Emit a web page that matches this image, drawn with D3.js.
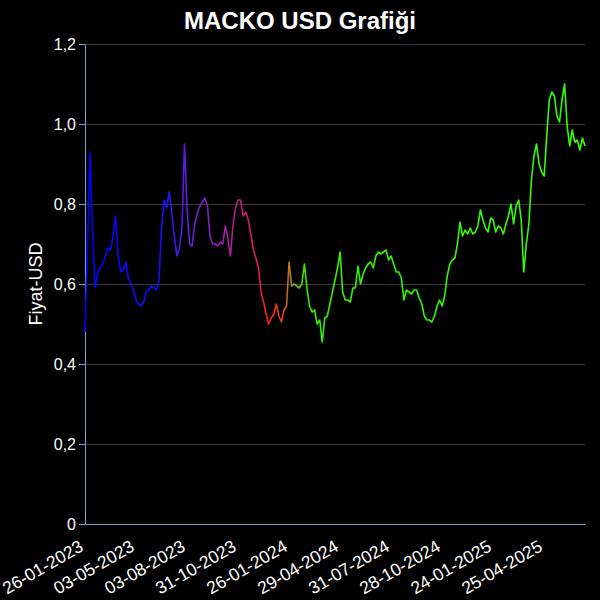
<!DOCTYPE html>
<html>
<head>
<meta charset="utf-8">
<script src="https://cdn.jsdelivr.net/npm/d3@7"></script>
<style>
  html, body { margin: 0; padding: 0; background: #000; }
  svg { display: block; background: #000; }
</style>
</head>
<body>
<svg id="chart" width="600" height="600"></svg>
<script>
const title = "MACKO USD Grafiği";
const yLabel = "Fiyat-USD";
const tickLabels = ["26-01-2023","03-05-2023","03-08-2023","31-10-2023","26-01-2024","29-04-2024","31-07-2024","28-10-2024","24-01-2025","25-04-2025"];
const tickStep = 20; // data points between labelled dates
const yTicks = [0, 0.2, 0.4, 0.6, 0.8, 1.0, 1.2];
const prices = [
  0.48, 0.70, 0.93, 0.72, 0.59, 0.63, 0.64, 0.65, 0.67, 0.69,
  0.685, 0.72, 0.77, 0.67, 0.63, 0.635, 0.655, 0.615, 0.60, 0.585,
  0.56, 0.55, 0.545, 0.555, 0.58, 0.585, 0.595, 0.59, 0.585, 0.61,
  0.74, 0.81, 0.79, 0.83, 0.78, 0.72, 0.67, 0.69, 0.74, 0.95,
  0.79, 0.70, 0.695, 0.75, 0.775, 0.795, 0.805, 0.815, 0.795, 0.72,
  0.70, 0.70, 0.695, 0.705, 0.70, 0.745, 0.715, 0.67, 0.745, 0.79,
  0.81, 0.81, 0.77, 0.78, 0.76, 0.725, 0.685, 0.665, 0.64, 0.58,
  0.555, 0.525, 0.50, 0.515, 0.525, 0.55, 0.52, 0.505, 0.535, 0.545,
  0.655, 0.595, 0.60, 0.595, 0.59, 0.60, 0.65, 0.59, 0.545, 0.53,
  0.535, 0.50, 0.51, 0.455, 0.515, 0.52, 0.55, 0.58, 0.61, 0.64,
  0.68, 0.58, 0.56, 0.56, 0.555, 0.59, 0.59, 0.645, 0.60, 0.625,
  0.64, 0.65, 0.655, 0.64, 0.67, 0.68, 0.675, 0.68, 0.685, 0.66,
  0.67, 0.65, 0.63, 0.63, 0.615, 0.56, 0.585, 0.58, 0.575, 0.585,
  0.585, 0.565, 0.55, 0.52, 0.51, 0.51, 0.505, 0.52, 0.545, 0.56,
  0.545, 0.57, 0.62, 0.65, 0.66, 0.665, 0.70, 0.755, 0.72, 0.735,
  0.725, 0.74, 0.725, 0.73, 0.745, 0.785, 0.76, 0.74, 0.73, 0.765,
  0.76, 0.73, 0.745, 0.74, 0.725, 0.75, 0.77, 0.80, 0.75, 0.795,
  0.81, 0.76, 0.63, 0.70, 0.75, 0.86, 0.92, 0.95, 0.90, 0.88,
  0.87, 0.97, 1.06, 1.08, 1.07, 1.02, 1.005, 1.06, 1.10, 0.995,
  0.945, 0.985, 0.955, 0.96, 0.935, 0.965, 0.945
];

const W = 600, H = 600;
const margin = {top: 44, right: 15, bottom: 76, left: 85};
const svg = d3.select("#chart");
const font = "'Liberation Sans', Arial, Helvetica, sans-serif";
const axisColor = "#6aa6d8";

const x = d3.scaleLinear().domain([0, prices.length - 1]).range([margin.left, W - margin.right]);
const y = d3.scaleLinear().domain([0, 1.2]).range([H - margin.bottom, margin.top]);

// gradient along time
const gradStops = [
  [0.00, "#0000ff"], [0.15, "#1010ff"], [0.21, "#6a1ee0"], [0.28, "#a020a8"],
  [0.33, "#d01c60"], [0.36, "#ff1a1a"], [0.395, "#e0401a"], [0.41, "#b87a20"],
  [0.425, "#70c018"], [0.445, "#33f000"], [1.00, "#33ff00"]
];
const defs = svg.append("defs");
const grad = defs.append("linearGradient").attr("id", "lineGrad")
  .attr("gradientUnits", "userSpaceOnUse")
  .attr("x1", x(0)).attr("x2", x(prices.length - 1)).attr("y1", 0).attr("y2", 0);
grad.selectAll("stop").data(gradStops).join("stop")
  .attr("offset", d => d[0]).attr("stop-color", d => d[1]);

// grid
svg.append("g").selectAll("line").data(yTicks.filter(v => v > 0)).join("line")
  .attr("x1", margin.left).attr("x2", W - margin.right)
  .attr("y1", d => y(d)).attr("y2", d => y(d))
  .attr("stroke", "#3a3a3a").attr("stroke-width", 1).attr("shape-rendering", "crispEdges");

// y axis
const fmt = v => v === 0 ? "0" : d3.format(".1f")(v).replace(".", ",");
const yAxis = svg.append("g").attr("transform", `translate(${margin.left},0)`)
  .call(d3.axisLeft(y).tickValues(yTicks).tickFormat(fmt).tickSizeOuter(0));
yAxis.select(".domain").attr("stroke", axisColor);
yAxis.selectAll(".tick line").attr("stroke", axisColor);
yAxis.selectAll("text").attr("fill", "#fff").style("font-size", "16px").style("font-family", font);

// x axis
const xAxis = svg.append("g").attr("transform", `translate(0,${H - margin.bottom})`)
  .call(d3.axisBottom(x)
    .tickValues(tickLabels.map((_, i) => i * tickStep))
    .tickFormat((d, i) => tickLabels[i]).tickSize(0).tickSizeOuter(0));
xAxis.select(".domain").attr("stroke", axisColor);
xAxis.selectAll("text").attr("fill", "#fff").style("font-size", "17.5px").style("font-family", font)
  .attr("x", 0).attr("y", 0).attr("dy", 0)
  .attr("text-anchor", "end")
  .attr("transform", "translate(-1,26) rotate(-30)");

// line
const line = d3.line().x((d, i) => x(i)).y(d => y(d));
svg.append("path").datum(prices)
  .attr("d", line).attr("fill", "none")
  .attr("stroke", "url(#lineGrad)").attr("stroke-width", 1.6)
  .attr("stroke-linejoin", "round");

// title
svg.append("text").attr("x", 300).attr("y", 28.5).attr("text-anchor", "middle")
  .attr("fill", "#fff").style("font-family", font).style("font-weight", "bold").style("font-size", "24px")
  .text(title);

// y label
svg.append("text").attr("transform", `translate(42,${(margin.top + H - margin.bottom) / 2}) rotate(-90)`)
  .attr("text-anchor", "middle").attr("fill", "#fff")
  .style("font-family", font).style("font-size", "18px")
  .text(yLabel);
</script>
</body>
</html>
